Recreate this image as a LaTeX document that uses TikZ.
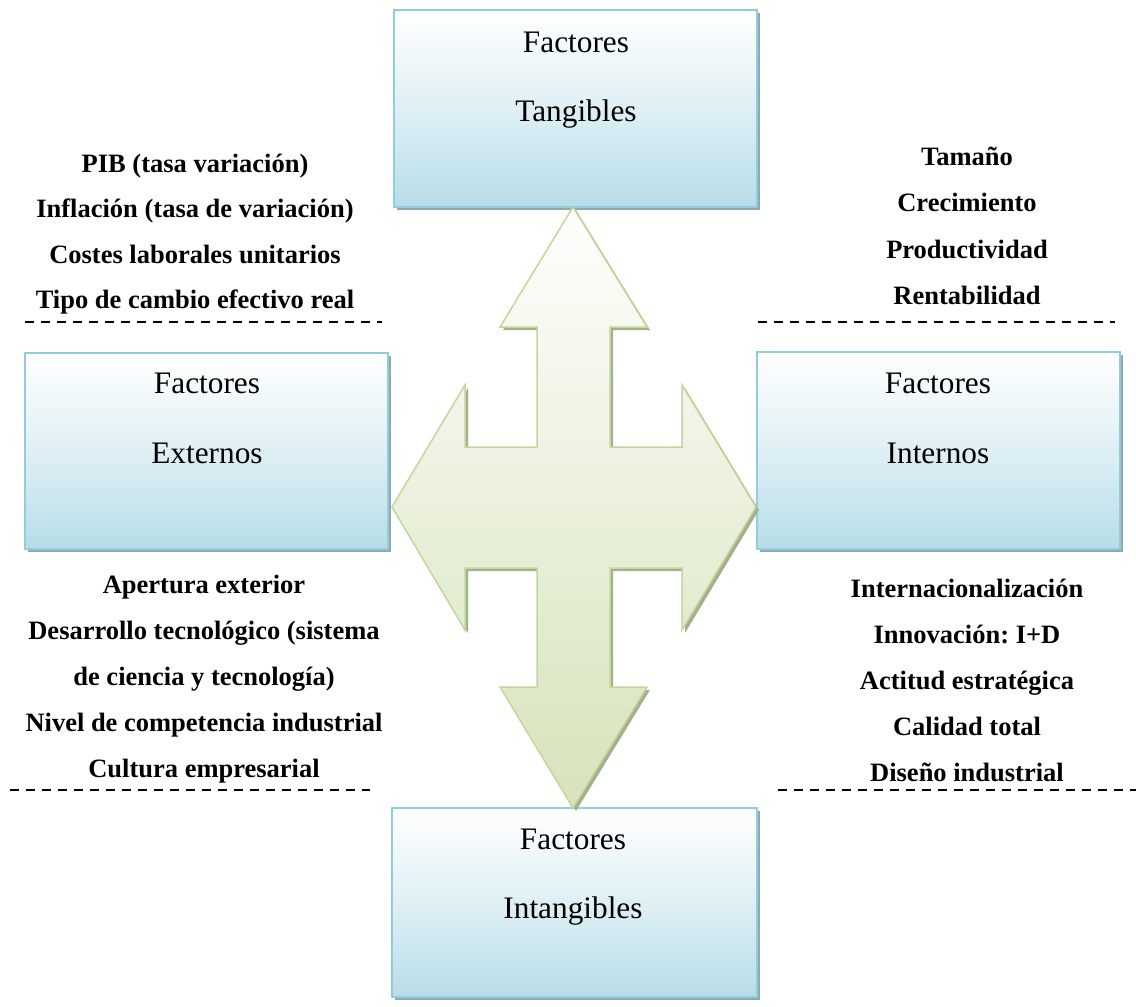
\documentclass[tikz,border=0pt]{standalone}
\usepackage{fontspec}
\setmainfont{Liberation Serif}
\usetikzlibrary{shadows}
\definecolor{boxfill}{HTML}{B7DDE8}
\definecolor{boxedge}{HTML}{93CDDD}
\definecolor{boxshadow}{HTML}{8FA9B1}
\definecolor{arrowtop}{HTML}{FEFEFD}
\definecolor{arrowbottom}{HTML}{D6E3BB}
\definecolor{arrowedge}{HTML}{C3D69B}
\definecolor{arrowshadow}{HTML}{A4AF8D}
\frenchspacing
\begin{document}
\begin{tikzpicture}[x=1pt,y=-1pt,
  factorbox/.style={draw=boxedge, line width=2pt,
    top color=white, bottom color=boxfill, middle color=boxfill!45!white,
    minimum width=363pt, inner sep=0pt,
    drop shadow={shadow xshift=3pt, shadow yshift=-3pt, fill=boxshadow, opacity=1}},
  boxtext/.style={anchor=base, inner sep=0pt, font=\fontsize{31.3}{36}\selectfont},
  itemtext/.style={anchor=base, inner sep=0pt, font=\fontsize{26.5}{30}\selectfont\bfseries},
  separator/.style={black, line width=1.2pt, dash pattern=on 9pt off 7pt}]
  \useasboundingbox (0,0) rectangle (1136,1007);

  % the four factor boxes
  \node[factorbox, minimum height=197pt] (tang) at (575.5,108.5) {};
  \node[factorbox, minimum height=196pt] (ext) at (206.5,451) {};
  \node[factorbox, minimum height=197pt] (int) at (938.5,450.5) {};
  \node[factorbox, minimum width=365pt, minimum height=189pt] (intang) at (574.5,902.5) {};

  \node[boxtext] (tang1) at (576,52) {Factores};
  \node[boxtext] (tang2) at (576,121) {Tangibles};
  \node[boxtext] (ext1) at (207,393) {Factores};
  \node[boxtext] (ext2) at (207,463) {Externos};
  \node[boxtext] (int1) at (938,393) {Factores};
  \node[boxtext] (int2) at (938,463) {Internos};
  \node[boxtext] (intang1) at (573,849) {Factores};
  \node[boxtext] (intang2) at (573,918) {Intangibles};

  % four-way arrow: outline shared by shadow and body
  \def\crossarrow{(573,207) -- (647,327) -- (610,327) -- (610,447) -- (682,447) -- (682,385)
    -- (756,507) -- (682,630) -- (682,568) -- (610,568) -- (610,687) -- (647,687)
    -- (573,808) -- (500,687) -- (537,687) -- (537,568) -- (465,568) -- (465,630)
    -- (392,507) -- (465,385) -- (465,447) -- (537,447) -- (537,327) -- (500,327) -- cycle}
  \fill[arrowshadow, shift={(3,3)}] \crossarrow;
  \draw[arrowedge, line width=1.5pt, line join=miter, top color=arrowtop, bottom color=arrowbottom] \crossarrow;

  % item lists
  \foreach \t [count=\i] in {PIB (tasa variación), Inflación (tasa de variación),
      Costes laborales unitarios, Tipo de cambio efectivo real}
    \node[itemtext] (lt\i) at (195,{172+45.5*(\i-1)}) {\t};
  \foreach \t [count=\i] in {Tamaño, Crecimiento, Productividad, Rentabilidad}
    \node[itemtext] (rt\i) at (967,{165+46.5*(\i-1)}) {\t};
  \foreach \t [count=\i] in {Apertura exterior, Desarrollo tecnológico (sistema,
      de ciencia y tecnología), Nivel de competencia industrial, Cultura empresarial}
    \node[itemtext] (lb\i) at (204,{593+46*(\i-1)}) {\t};
  \foreach \t [count=\i] in {Internacionalización, Innovación: I+D, Actitud estratégica,
      Calidad total, Diseño industrial}
    \node[itemtext] (rb\i) at (967,{597+46.2*(\i-1)}) {\t};

  % dashed separators
  \coordinate (s1a) at (25,322);  \coordinate (s1b) at (382,322);
  \coordinate (s2a) at (758,322); \coordinate (s2b) at (1115,322);
  \coordinate (s3a) at (10,790);  \coordinate (s3b) at (370,790);
  \coordinate (s4a) at (778,790); \coordinate (s4b) at (1136,790);
  \draw[separator] (s1a) -- (s1b);
  \draw[separator] (s2a) -- (s2b);
  \draw[separator] (s3a) -- (s3b);
  \draw[separator] (s4a) -- (s4b);
\end{tikzpicture}
\end{document}
